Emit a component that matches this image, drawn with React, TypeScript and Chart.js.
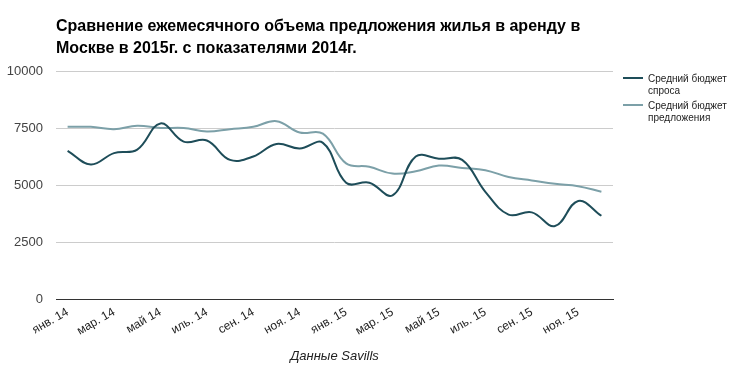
import React, { useEffect, useRef } from "react";
import { Chart, registerables } from "chart.js";

Chart.register(...registerables);

const months: string[] = [
  "янв. 14", "фев. 14", "мар. 14", "апр. 14", "май 14", "июн. 14",
  "иль. 14", "авг. 14", "сен. 14", "окт. 14", "ноя. 14", "дек. 14",
  "янв. 15", "фев. 15", "мар. 15", "апр. 15", "май 15", "июн. 15",
  "иль. 15", "авг. 15", "сен. 15", "окт. 15", "ноя. 15", "дек. 15",
];

const demandBudget: number[] = [
  6500, 5900, 6400, 6550, 7700, 6900, 6950, 6100, 6250, 6800, 6600, 6850,
  5100, 5100, 4550, 6250, 6150, 6100, 4700, 3700, 3800, 3200, 4300, 3650,
];

const supplyBudget: number[] = [
  7550, 7550, 7450, 7600, 7500, 7500, 7350, 7450, 7550, 7800, 7300, 7250,
  5950, 5800, 5500, 5600, 5850, 5750, 5650, 5350, 5200, 5050, 4950, 4700,
];

const seriesNames: string[][] = [
  ["Средний бюджет", "спроса"],
  ["Средний бюджет", "предложения"],
];

const titleLines: string[] = [
  "Сравнение ежемесячного объема предложения жилья в аренду в",
  "Москве в 2015г. с показателями 2014г.",
];

const xAxisTitle = "Данные Savills";
const yTicks: number[] = [0, 2500, 5000, 7500, 10000];

const DARK = "#1e4d59";
const LIGHT = "#7ca0a8";
const FONT = "'Liberation Sans', Arial, sans-serif";

const overlayPlugin = {
  id: "overlay",
  afterDraw(chart: any) {
    const ctx = chart.ctx as CanvasRenderingContext2D;
    const area = chart.chartArea;
    ctx.save();
    // Title
    ctx.fillStyle = "#000";
    ctx.font = `bold 16px ${FONT}`;
    ctx.textAlign = "left";
    ctx.textBaseline = "alphabetic";
    titleLines.forEach((t, i) => ctx.fillText(t, area.left, 31 + i * 22));
    // Legend
    const colors = [DARK, LIGHT];
    const lx = area.right + 10;
    chart.data.datasets.forEach((_ds: any, i: number) => {
      const y = 78 + i * 27;
      ctx.strokeStyle = colors[i];
      ctx.lineWidth = 2;
      ctx.beginPath();
      ctx.moveTo(lx, y);
      ctx.lineTo(lx + 20, y);
      ctx.stroke();
      ctx.fillStyle = "#222";
      ctx.font = `10px ${FONT}`;
      seriesNames[i].forEach((line, j) => {
        ctx.fillText(line, lx + 25, y + 4 + j * 12);
      });
    });
    ctx.restore();
  },
};

export default function App() {
  const canvasRef = useRef<HTMLCanvasElement | null>(null);

  useEffect(() => {
    document.body.style.margin = "0";
    const canvas = canvasRef.current;
    if (!canvas) return;
    const chart = new Chart(canvas, {
      type: "line",
      data: {
        labels: months,
        datasets: [
          {
            label: seriesNames[0].join(" "),
            data: demandBudget,
            borderColor: DARK,
            backgroundColor: DARK,
            borderWidth: 2,
            pointRadius: 0,
            tension: 0.4,
          },
          {
            label: seriesNames[1].join(" "),
            data: supplyBudget,
            borderColor: LIGHT,
            backgroundColor: LIGHT,
            borderWidth: 2,
            pointRadius: 0,
            tension: 0.4,
          },
        ],
      },
      options: {
        responsive: false,
        animation: false,
        layout: { padding: { top: 71, right: 125, left: 0, bottom: 0 } },
        plugins: {
          legend: { display: false },
          title: { display: false },
          tooltip: { enabled: false },
        },
        scales: {
          x: {
            type: "category",
            offset: true,
            grid: { display: false, drawTicks: false },
            border: { display: true, color: "#333", width: 1 },
            ticks: {
              autoSkip: false,
              minRotation: 30,
              maxRotation: 30,
              padding: 6,
              color: "#222",
              font: { family: FONT, size: 12 },
              callback: (_v: any, i: number) => (i % 2 === 0 ? months[i] : ""),
            },
            title: {
              display: true,
              text: xAxisTitle,
              color: "#222",
              font: { family: FONT, size: 13, style: "italic" },
              padding: { top: 0, bottom: 12 },
            },
            afterFit: (scale: any) => {
              scale.height = 77;
            },
          },
          y: {
            min: 0,
            max: 10000,
            afterBuildTicks: (scale: any) => {
              scale.ticks = yTicks.map((v) => ({ value: v }));
            },
            grid: {
              drawTicks: false,
              color: (c: any) => (c.tick && c.tick.value === 0 ? "#333" : "#cccccc"),
            },
            border: { display: false },
            ticks: {
              padding: 13,
              color: "#444",
              font: { family: FONT, size: 13 },
              callback: (v: any) => String(v),
            },
            afterFit: (scale: any) => {
              scale.width = 56;
            },
          },
        },
      },
      plugins: [overlayPlugin],
    });
    return () => chart.destroy();
  }, []);

  return (
    <div style={{ width: 738, height: 376, background: "#fff" }}>
      <canvas ref={canvasRef} width={738} height={376} />
    </div>
  );
}
